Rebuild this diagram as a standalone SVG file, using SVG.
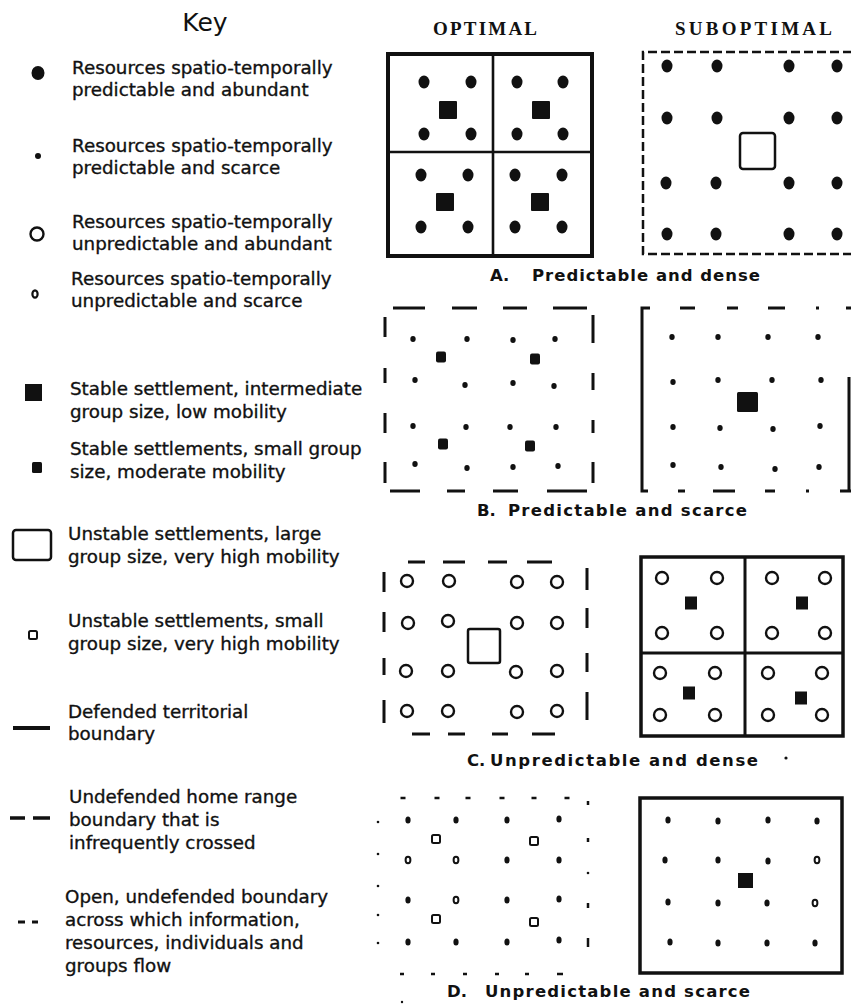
<svg xmlns="http://www.w3.org/2000/svg" width="851" height="1008" viewBox="0 0 851 1008">
<style>
.kt{font-family:"DejaVu Sans",sans-serif;font-size:18.3px;fill:#111;stroke:#111;stroke-width:0.35}
.ttl{font-family:"Liberation Serif",serif;font-size:19px;font-weight:bold;fill:#111}
.cap{font-family:"DejaVu Sans",sans-serif;font-size:16.5px;font-weight:bold;fill:#111}
.ink{fill:#111}
.bd{fill:#111}
.sd{fill:#111}
.oc{fill:#fff;stroke:#111;stroke-width:2.4}
.os{fill:#fff;stroke:#111;stroke-width:2}
.ln{stroke:#111;fill:none}
.b3{stroke:#111;stroke-width:3;fill:none}
.b25{stroke:#111;stroke-width:2.5;fill:none}
.tick{stroke:#111;stroke-width:2.5;fill:none}
</style>
<defs>
<ellipse id="big" rx="5.5" ry="6.5" class="bd"/>
<ellipse id="sm" rx="2.7" ry="3" class="sd"/>
<ellipse id="dd" rx="2.6" ry="3.6" class="sd"/>
<ellipse id="dd0" rx="2.4" ry="3.2" fill="#fff" stroke="#111" stroke-width="2"/>
<circle id="oc" r="6" class="oc"/>
<rect id="sqC" x="-6" y="-6.5" width="12" height="13" class="ink"/>
<rect id="sqB" x="-5" y="-5.5" width="10" height="11" rx="2" class="ink"/>
<rect id="sqA" x="-9" y="-9" width="18" height="18" rx="1" class="ink"/>
<rect id="osq" x="-4" y="-4" width="8" height="8" rx="1.5" class="os"/>
</defs>
<rect width="851" height="1008" fill="#fff"/>

<g id="key">
<text x="205" y="31" text-anchor="middle" style="font-family:'DejaVu Sans',sans-serif;font-size:25px;fill:#111">Key</text>
<g id="key-1"><ellipse cx="38" cy="73" rx="6.5" ry="7" class="ink"/>
<text class="kt" x="72" y="74">Resources spatio-temporally</text><text class="kt" x="72" y="96">predictable and abundant</text></g>
<g id="key-2"><circle cx="38" cy="156" r="3" class="ink"/>
<text class="kt" x="72" y="152">Resources spatio-temporally</text><text class="kt" x="72" y="174">predictable and scarce</text></g>
<g id="key-3"><circle cx="37" cy="234" r="6.5" class="oc"/>
<text class="kt" x="72" y="228">Resources spatio-temporally</text><text class="kt" x="72" y="250">unpredictable and abundant</text></g>
<g id="key-4"><ellipse cx="35" cy="294" rx="2.6" ry="3.6" fill="#fff" stroke="#111" stroke-width="2.2"/>
<text class="kt" x="71" y="285">Resources spatio-temporally</text><text class="kt" x="71" y="307">unpredictable and scarce</text></g>
<g id="key-5"><rect x="25" y="384" width="17" height="17" class="ink"/>
<text class="kt" x="70" y="395">Stable settlement, intermediate</text><text class="kt" x="70" y="418">group size, low mobility</text></g>
<g id="key-6"><rect x="32" y="462" width="10" height="11" rx="1.5" class="ink"/>
<text class="kt" x="70" y="455">Stable settlements, small group</text><text class="kt" x="70" y="478">size, moderate mobility</text></g>
<g id="key-7"><rect x="13" y="530" width="38" height="30" rx="3" class="b25"/>
<text class="kt" x="68" y="540">Unstable settlements, large</text><text class="kt" x="68" y="563">group size, very high mobility</text></g>
<g id="key-8"><rect x="29" y="631" width="8" height="8" rx="1.5" class="os"/>
<text class="kt" x="68" y="627">Unstable settlements, small</text><text class="kt" x="68" y="650">group size, very high mobility</text></g>
<g id="key-9"><line x1="13" y1="728" x2="50" y2="728" class="ln" stroke-width="4"/>
<text class="kt" x="68" y="718">Defended territorial</text><text class="kt" x="68" y="740">boundary</text></g>
<g id="key-10"><path d="M10 818H25M33 818H50" class="ln" stroke-width="3.5"/>
<text class="kt" x="69" y="803">Undefended home range</text><text class="kt" x="69" y="826">boundary that is</text><text class="kt" x="69" y="849">infrequently crossed</text></g>
<g id="key-11"><path d="M18 922H25M32 922H38" class="ln" stroke-width="3"/>
<text class="kt" x="65" y="903">Open, undefended boundary</text><text class="kt" x="65" y="926">across which information,</text><text class="kt" x="65" y="949">resources, individuals and</text><text class="kt" x="65" y="972">groups flow</text></g>
</g>

<g id="titles">
<text class="ttl" x="433" y="35" textLength="104" lengthAdjust="spacing">OPTIMAL</text>
<text class="ttl" x="675" y="35" textLength="157" lengthAdjust="spacing">SUBOPTIMAL</text>
</g>

<g id="panel-A-optimal">
<rect x="388" y="54" width="204" height="202" class="ln" stroke-width="4"/>
<path d="M493 54V256M388 152H592" class="ln" stroke-width="2.6"/>
<use href="#big" x="424" y="82"/><use href="#big" x="471" y="82"/><use href="#big" x="424" y="134"/><use href="#big" x="471" y="134"/><use href="#sqA" x="448" y="110"/>
<use href="#big" x="517" y="82"/><use href="#big" x="563" y="82"/><use href="#big" x="517" y="134"/><use href="#big" x="563" y="134"/><use href="#sqA" x="541" y="110"/>
<use href="#big" x="421" y="175"/><use href="#big" x="468" y="175"/><use href="#big" x="421" y="227"/><use href="#big" x="468" y="227"/><use href="#sqA" x="445" y="202"/>
<use href="#big" x="515" y="175"/><use href="#big" x="562" y="175"/><use href="#big" x="515" y="227"/><use href="#big" x="562" y="227"/><use href="#sqA" x="540" y="202"/>
</g>

<g id="panel-A-suboptimal">
<path d="M852 52H643V254H852" class="ln" stroke-width="2.5" stroke-dasharray="9 4"/>
<use href="#big" x="667" y="66"/><use href="#big" x="717" y="66"/><use href="#big" x="789" y="66"/><use href="#big" x="837" y="66"/>
<use href="#big" x="667" y="118"/><use href="#big" x="717" y="118"/><use href="#big" x="789" y="118"/><use href="#big" x="837" y="118"/>
<use href="#big" x="666" y="183"/><use href="#big" x="716" y="183"/><use href="#big" x="789" y="183"/><use href="#big" x="837" y="183"/>
<use href="#big" x="667" y="234"/><use href="#big" x="716" y="234"/><use href="#big" x="789" y="234"/><use href="#big" x="837" y="234"/>
<rect x="740" y="133" width="35" height="36" rx="3" class="b25"/>
</g>
<text class="cap" x="490" y="281">A.</text>
<text class="cap" x="532" y="281" textLength="228" lengthAdjust="spacing">Predictable and dense</text>

<g id="panel-B-optimal">
<path d="M393 308H425M452 308H477M503 308H527M553 308H587M385 317V337M385 368V383M385 413V433M385 462V483M593 315V343M593 373V390M593 420V433M593 462V483M390 491H420M447 491H465M493 491H518M547 491H587" class="b3"/>
<use href="#sm" x="413" y="339"/><use href="#sm" x="467" y="339"/><use href="#sm" x="513" y="340"/><use href="#sm" x="555" y="339"/>
<use href="#sm" x="415" y="380"/><use href="#sm" x="465" y="385"/><use href="#sm" x="513" y="383"/><use href="#sm" x="554" y="386"/>
<use href="#sm" x="413" y="426"/><use href="#sm" x="466" y="427"/><use href="#sm" x="510" y="427"/><use href="#sm" x="556" y="427"/>
<use href="#sm" x="415" y="464"/><use href="#sm" x="467" y="468"/><use href="#sm" x="513" y="467"/><use href="#sm" x="558" y="466"/>
<use href="#sqB" x="441" y="357"/><use href="#sqB" x="535" y="359"/><use href="#sqB" x="443" y="444"/><use href="#sqB" x="530" y="446"/>
</g>

<g id="panel-B-suboptimal">
<path d="M650 308H642V491H648" class="b3"/>
<path d="M680 308H695M727 308H738M768 308H785M816 308H819M846 308H851M678 491H685M713 491H735M765 491H775M806 491H809M840 491H851H849V377" class="b3"/>
<use href="#sm" x="672" y="337"/><use href="#sm" x="718" y="337"/><use href="#sm" x="768" y="337"/><use href="#sm" x="818" y="337"/>
<use href="#sm" x="673" y="382"/><use href="#sm" x="718" y="380"/><use href="#sm" x="772" y="380"/><use href="#sm" x="821" y="380"/>
<use href="#sm" x="673" y="427"/><use href="#sm" x="720" y="428"/><use href="#sm" x="773" y="429"/><use href="#sm" x="820" y="426"/>
<use href="#sm" x="673" y="465"/><use href="#sm" x="721" y="467"/><use href="#sm" x="775" y="469"/><use href="#sm" x="819" y="467"/>
<rect x="737" y="392" width="21" height="20" rx="1.5" class="ink"/>
</g>
<text class="cap" x="477" y="516">B.</text>
<text class="cap" x="508" y="516" textLength="239" lengthAdjust="spacing">Predictable and scarce</text>

<g id="panel-C-optimal">
<path d="M408 562H425M443 562H465M488 562H507M527 562H552M384 572V592M384 612V632M384 658V675M384 700V723M587 568V590M587 608V628M587 653V672M587 692V720M412 734H430M448 734H465M492 734H508M532 734H555" class="b3"/>
<use href="#oc" x="407" y="581"/><use href="#oc" x="449" y="581"/><use href="#oc" x="517" y="582"/><use href="#oc" x="557" y="582"/>
<use href="#oc" x="408" y="623"/><use href="#oc" x="448" y="621"/><use href="#oc" x="517" y="623"/><use href="#oc" x="557" y="623"/>
<use href="#oc" x="406" y="671"/><use href="#oc" x="448" y="671"/><use href="#oc" x="516" y="672"/><use href="#oc" x="557" y="671"/>
<use href="#oc" x="407" y="711"/><use href="#oc" x="448" y="711"/><use href="#oc" x="517" y="712"/><use href="#oc" x="557" y="711"/>
<rect x="468" y="629" width="32" height="34" rx="2" class="b25"/>
</g>

<g id="panel-C-suboptimal">
<rect x="641" y="557" width="202" height="179" class="ln" stroke-width="3.5"/>
<path d="M745 557V736M641 653H843" class="b3"/>
<use href="#oc" x="662" y="578"/><use href="#oc" x="717" y="578"/><use href="#oc" x="662" y="633"/><use href="#oc" x="717" y="633"/><use href="#sqC" x="691" y="603"/>
<use href="#oc" x="772" y="578"/><use href="#oc" x="825" y="578"/><use href="#oc" x="772" y="633"/><use href="#oc" x="825" y="633"/><use href="#sqC" x="802" y="603"/>
<use href="#oc" x="660" y="673"/><use href="#oc" x="715" y="673"/><use href="#oc" x="660" y="715"/><use href="#oc" x="715" y="715"/><use href="#sqC" x="689" y="693"/>
<use href="#oc" x="768" y="673"/><use href="#oc" x="822" y="673"/><use href="#oc" x="768" y="715"/><use href="#oc" x="822" y="715"/><use href="#sqC" x="801" y="698"/>
</g>
<text class="cap" x="467" y="766">C.</text>
<text class="cap" x="490" y="766" textLength="268" lengthAdjust="spacing">Unpredictable and dense</text>
<circle cx="786" cy="758" r="1.6" class="ink"/>

<g id="panel-D-optimal">
<path d="M400.5 798H405.5M434.5 798H439.5M465.5 798H470.5M499.5 798H504.5M531.5 798H536.5M564.5 798H569.5M400 974H404M431 974H435M463 974H467M495 974H499M525 974H529M557 974H563M588 801V805M588 838V842M588 903V908M588 938V947" class="tick"/>
<circle cx="378" cy="822" r="1.3" class="ink"/><circle cx="378" cy="854" r="1.3" class="ink"/><circle cx="378" cy="886" r="1.3" class="ink"/><circle cx="378" cy="915" r="1.3" class="ink"/><circle cx="378" cy="943" r="1.3" class="ink"/><circle cx="588" cy="873" r="1.3" class="ink"/>
<use href="#dd" x="408" y="820"/><use href="#dd" x="456" y="820"/><use href="#dd" x="507" y="820"/><use href="#dd" x="559" y="819"/>
<use href="#dd0" x="408" y="860"/><use href="#dd0" x="456" y="860"/><use href="#dd" x="507" y="860"/><use href="#dd" x="559" y="860"/>
<use href="#dd" x="408" y="900"/><use href="#dd0" x="456" y="900"/><use href="#dd" x="507" y="900"/><use href="#dd" x="559" y="899"/>
<use href="#dd" x="408" y="942"/><use href="#dd" x="456" y="942"/><use href="#dd" x="507" y="942"/><use href="#dd" x="559" y="940"/>
<use href="#osq" x="436" y="839"/><use href="#osq" x="534" y="841"/><use href="#osq" x="436" y="919"/><use href="#osq" x="534" y="922"/>
</g>

<g id="panel-D-suboptimal">
<rect x="640" y="798" width="202" height="175" class="ln" stroke-width="3.5"/>
<use href="#dd" x="668" y="820"/><use href="#dd" x="718" y="821"/><use href="#dd" x="768" y="820"/><use href="#dd" x="817" y="821"/>
<use href="#dd" x="665" y="860"/><use href="#dd" x="718" y="860"/><use href="#dd" x="768" y="861"/><use href="#dd0" x="817" y="860"/>
<use href="#dd" x="668" y="902"/><use href="#dd" x="718" y="903"/><use href="#dd" x="767" y="903"/><use href="#dd0" x="815" y="903"/>
<use href="#dd" x="670" y="942"/><use href="#dd" x="718" y="943"/><use href="#dd" x="767" y="943"/><use href="#dd" x="815" y="943"/>
<rect x="738" y="873" width="15" height="15" class="ink"/>
</g>
<text class="cap" x="447" y="997">D.</text>
<text class="cap" x="485" y="997" textLength="265" lengthAdjust="spacing">Unpredictable and scarce</text>
<circle cx="402" cy="1002" r="1.2" class="ink"/>
</svg>
